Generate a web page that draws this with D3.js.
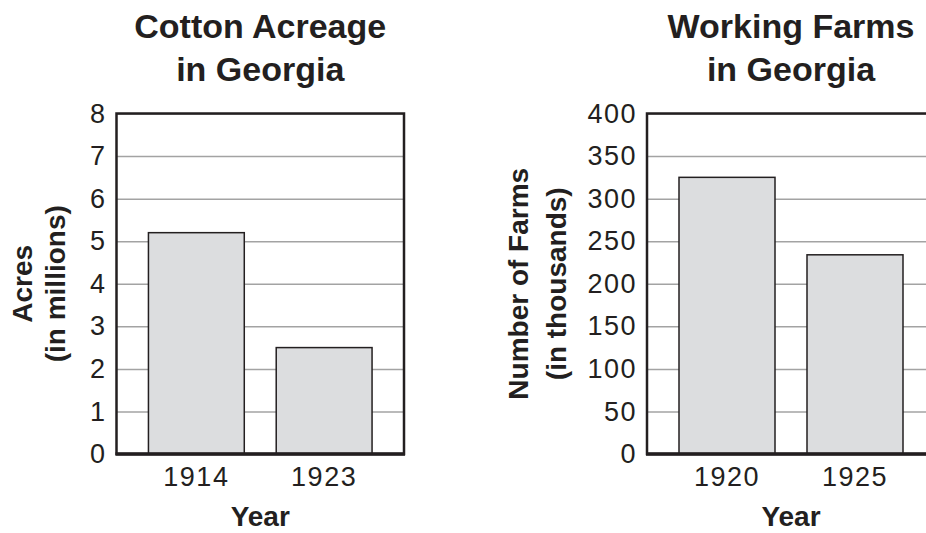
<!DOCTYPE html>
<head>
    <meta charset="utf-8">
    <script src="https://cdn.jsdelivr.net/npm/d3@7"></script>
    <style type="text/css">
        body {
            margin: 0;
            background: #fff;
        }
        svg text {
            fill: #231f20;
            font-family: "Liberation Sans", Arial, sans-serif;
        }
        .title, .ylabel, .xlabel {
            font-weight: bold;
        }
        .grid line {
            stroke: #a3a3a3;
            stroke-width: 1.5px;
        }
        .bar {
            fill: #dcdddf;
            stroke: #231f20;
            stroke-width: 1.5px;
        }
        .frame {
            fill: none;
            stroke: #231f20;
            stroke-width: 2.5px;
        }
    </style>
</head>
<body>
    <div id="chart"></div>
</body>
</html>

<script type="text/javascript">
	var width = 926, height = 533;

	// chart values
	var cottonYears = ["1914", "1923"];
	var cottonAcres = [5.2, 2.5];
	var cottonTicks = [0, 1, 2, 3, 4, 5, 6, 7, 8];

	var farmYears = ["1920", "1925"];
	var farmCounts = [325, 234];
	var farmTicks = [0, 50, 100, 150, 200, 250, 300, 350, 400];

	var svg = d3.select("#chart").append("svg")
		.attr("width", width)
		.attr("height", height);

	var plotTop = 113.5, plotH = 340.5;

	function drawChart(opts) {
		var w = opts.width;
		var g = svg.append("g")
			.attr("transform", "translate(" + opts.left + "," + plotTop + ")");

		var x = d3.scaleBand()
			.domain(opts.years)
			.range([0, w])
			.paddingInner(0.25)
			.paddingOuter(0.25);

		var y = d3.scaleLinear()
			.domain([0, opts.ticks[opts.ticks.length - 1]])
			.range([plotH, 0]);

		// grid lines
		g.append("g")
			.attr("class", "grid")
			.call(d3.axisLeft(y).tickValues(opts.ticks).tickSize(-w).tickFormat(""))
			.call(function(s) { s.select(".domain").remove(); });

		// bars
		g.selectAll(".bar")
			.data(opts.values)
			.enter().append("rect")
			.attr("class", "bar")
			.attr("x", function(d, i) { return x(opts.years[i]); })
			.attr("width", x.bandwidth())
			.attr("y", function(d) { return y(d); })
			.attr("height", function(d) { return plotH - y(d); });

		// box around plot
		g.append("rect")
			.attr("class", "frame")
			.attr("width", w)
			.attr("height", plotH);
		g.append("line")
			.attr("x1", -1).attr("x2", w + 1)
			.attr("y1", plotH).attr("y2", plotH)
			.attr("stroke", "#231f20")
			.attr("stroke-width", 3.5);

		// y tick labels
		g.append("g")
			.call(d3.axisLeft(y).tickValues(opts.ticks).tickSize(0).tickPadding(10))
			.call(function(s) {
				s.select(".domain").remove();
				s.selectAll("text")
					.attr("fill", "#231f20")
					.style("font-family", "'Liberation Sans', Arial, sans-serif")
					.style("font-size", "27px")
					.style("letter-spacing", "1.5px");
			});

		// x tick labels
		g.append("g")
			.attr("transform", "translate(0," + plotH + ")")
			.call(d3.axisBottom(x).tickSize(0).tickPadding(12.5))
			.call(function(s) {
				s.select(".domain").remove();
				s.selectAll("text")
					.attr("fill", "#231f20")
					.style("font-family", "'Liberation Sans', Arial, sans-serif")
					.style("font-size", "27px")
					.style("letter-spacing", "1.5px");
			});

		// title
		var title = g.append("text")
			.attr("class", "title")
			.attr("text-anchor", "middle")
			.style("font-size", "34px");
		title.append("tspan")
			.attr("x", w / 2).attr("y", 37.7 - plotTop)
			.text(opts.title[0]);
		title.append("tspan")
			.attr("x", w / 2).attr("y", 81 - plotTop)
			.text(opts.title[1]);

		// y label
		var yl = g.append("text")
			.attr("class", "ylabel")
			.attr("text-anchor", "middle")
			.attr("transform", "translate(" + (opts.yLabelX - opts.left) + "," + (plotH / 2) + ") rotate(-90)")
			.style("font-size", "28px");
		yl.append("tspan").attr("x", 0).attr("y", 0).text(opts.yLabel[0]);
		yl.append("tspan").attr("x", 0).attr("y", opts.yLabelGap).text(opts.yLabel[1]);

		// x label
		g.append("text")
			.attr("class", "xlabel")
			.attr("text-anchor", "middle")
			.attr("x", w / 2)
			.attr("y", 526 - plotTop)
			.style("font-size", "28px")
			.text("Year");
	}

	drawChart({
		left: 116.5, width: 287.5,
		years: cottonYears, values: cottonAcres, ticks: cottonTicks,
		title: ["Cotton Acreage", "in Georgia"],
		yLabel: ["Acres", "(in millions)"],
		yLabelX: 32, yLabelGap: 33
	});

	drawChart({
		left: 647, width: 288,
		years: farmYears, values: farmCounts, ticks: farmTicks,
		title: ["Working Farms", "in Georgia"],
		yLabel: ["Number of Farms", "(in thousands)"],
		yLabelX: 528, yLabelGap: 38
	});
</script>
